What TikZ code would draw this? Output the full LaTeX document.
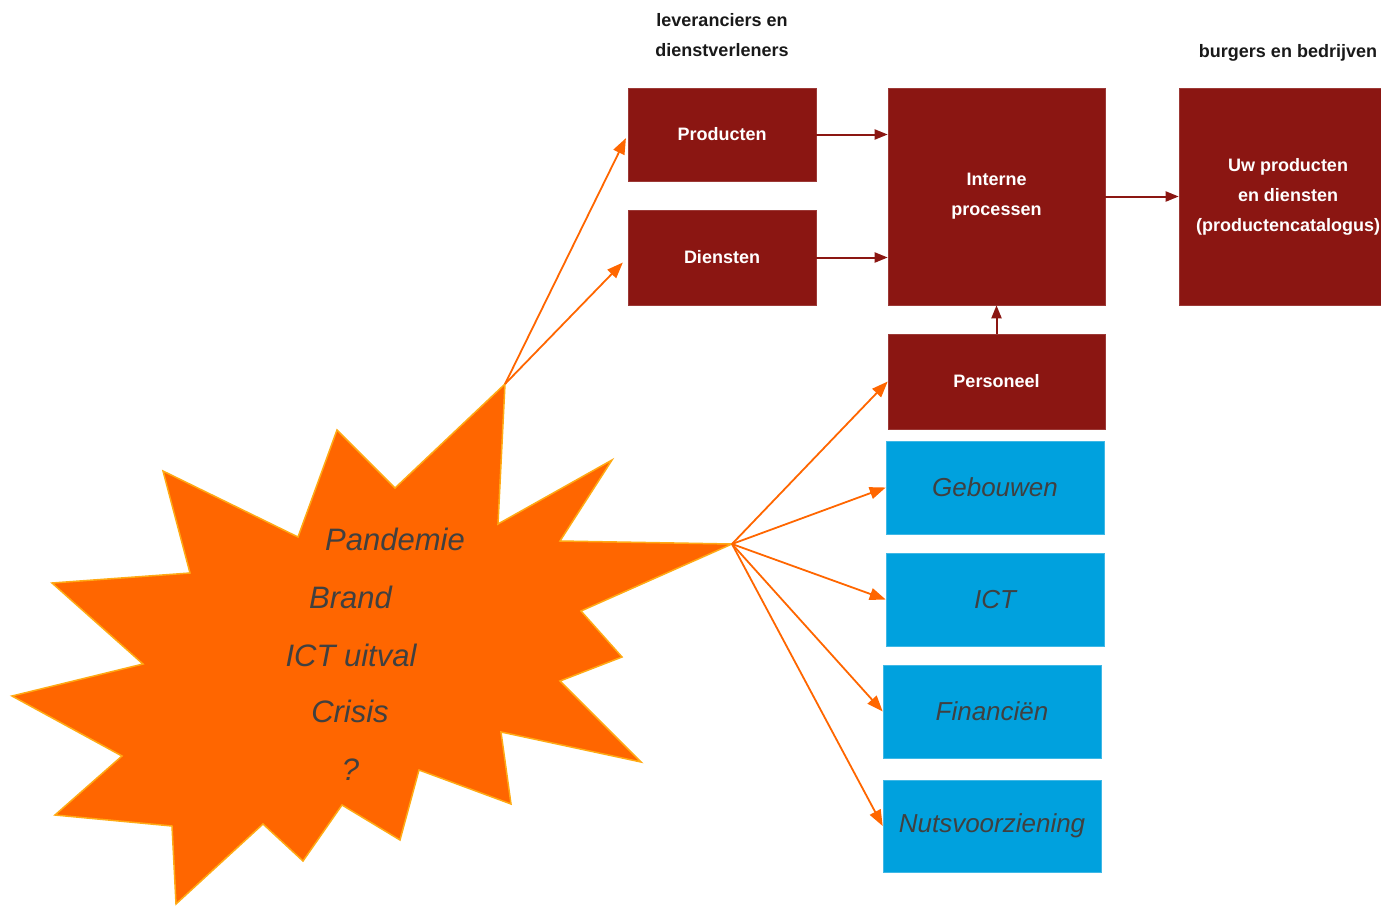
\documentclass[tikz,border=0pt]{standalone}
\usepackage{fontspec}
\setmainfont{Liberation Sans}
\usetikzlibrary{arrows.meta}
\definecolor{darkred}{RGB}{139,22,18}
\definecolor{bblue}{RGB}{0,161,222}
\definecolor{starorange}{RGB}{255,102,0}
\definecolor{staredge}{RGB}{255,170,20}
\definecolor{txtgray}{RGB}{64,64,64}
\begin{document}
\begin{tikzpicture}[x=1pt,y=-1pt,
  redbox/.style={draw=darkred!85!white, line width=0.6pt, fill=darkred, text=white,
    font=\fontsize{18}{30}\selectfont\bfseries, align=center, inner sep=0pt},
  bluebox/.style={draw=bblue!75!white, line width=0.6pt, fill=bblue, text=txtgray,
    font=\fontsize{26}{30}\selectfont\itshape, inner sep=0pt},
  startext/.style={text=txtgray, font=\fontsize{31}{36}\selectfont\itshape, anchor=base, inner sep=0pt},
  toplabel/.style={text=black!90, font=\fontsize{18}{30}\selectfont\bfseries, align=center, inner sep=0pt},
  oarrow/.style={draw=starorange, line width=1.8pt, -{Triangle[length=16pt,width=12pt]}},
  rarrow/.style={draw=darkred, line width=2pt, -{Triangle[length=13pt,width=10pt]}}
]
\useasboundingbox (0,0) rectangle (1381,905);
\clip (0,0) rectangle (1381,905);

% star
\path[fill=starorange, draw=staredge, line width=1.5pt, line join=miter]
  (505,384) -- (498,524) -- (612,460) -- (560,541) -- (732,544) -- (581,611)
  -- (622,657) -- (560,681) -- (641,762) -- (501,732) -- (511,804) -- (419,770)
  -- (400,840) -- (342,805) -- (303,861) -- (263,824) -- (176,904) -- (172,826)
  -- (55,815) -- (122,756) -- (12,696) -- (143,664) -- (52,583) -- (190,573)
  -- (163,471) -- (298,537) -- (337,430) -- (395,488) -- cycle;
\coordinate (tipA) at (505,384);
\coordinate (tipB) at (732,544);

\node[startext] (t1) at (395,550) {Pandemie};
\node[startext] (t2) at (350.5,608) {Brand};
\node[startext] (t3) at (351,666) {ICT uitval};
\node[startext] (t4) at (350,722.5) {Crisis};
\node[startext] (t5) at (350.5,780.5) {?};

% labels
\node[toplabel] (lev) at (722,35) {leveranciers en\\dienstverleners};
\node[toplabel] (bur) at (1288,53) {burgers en bedrijven};

% red boxes
\node[redbox, minimum width=188pt, minimum height=93pt] (prod) at (722,134.5) {Producten};
\node[redbox, minimum width=188pt, minimum height=95pt] (dien) at (722,257.5) {Diensten};
\node[redbox, minimum width=217pt, minimum height=217pt] (int) at (996.5,196.5) {Interne\\processen};
\node[redbox, minimum width=218pt, minimum height=217pt] (uw) at (1288,196.5) {Uw producten\\en diensten\\(productencatalogus)};
\node[redbox, minimum width=217pt, minimum height=95pt] (pers) at (996.5,381.5) {Personeel};

% blue boxes
\node[bluebox, minimum width=218pt, minimum height=93pt] (geb) at (995,487.5) {Gebouwen};
\node[bluebox, minimum width=218pt, minimum height=93pt] (ict) at (995,599.5) {ICT};
\node[bluebox, minimum width=218pt, minimum height=93pt] (fin) at (992,711.5) {Financiën};
\node[bluebox, minimum width=218pt, minimum height=92pt] (nuts) at (992,826) {Nutsvoorziening};

% red arrows
\draw[rarrow] (prod.east) -- (prod.east -| int.west);
\draw[rarrow] (dien.east) -- (dien.east -| int.west);
\draw[rarrow] (int.east) -- (uw.west);
\draw[rarrow] (pers.north) -- (int.south);

% orange arrows
\draw[oarrow, shorten >=4pt] (tipA) -- (prod.west);
\draw[oarrow, shorten >=7pt] (tipA) -- (dien.west);
\draw[oarrow] (tipB) -- (pers.west);
\draw[oarrow] (tipB) -- (geb.west);
\draw[oarrow] (tipB) -- (ict.west);
\draw[oarrow] (tipB) -- (fin.west);
\draw[oarrow] (tipB) -- (nuts.west);
\end{tikzpicture}
\end{document}
